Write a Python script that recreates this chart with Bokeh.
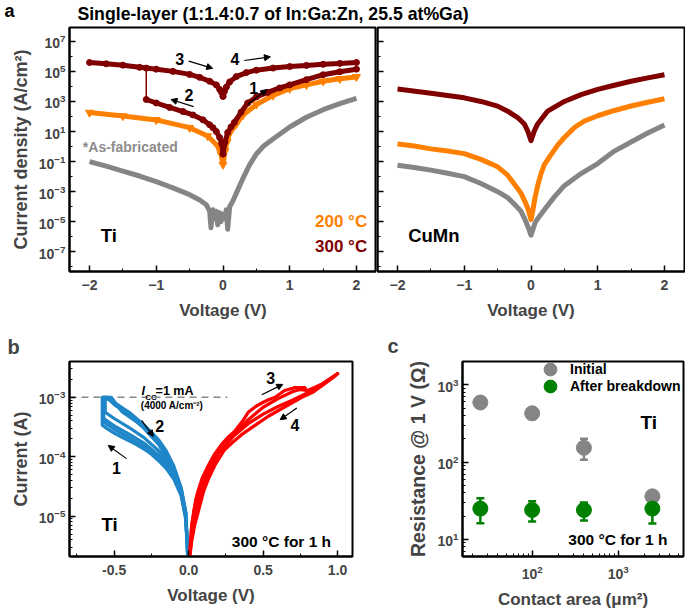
from bokeh.plotting import figure
from bokeh.layouts import column, row
from bokeh.models import (Label, Arrow, NormalHead, Legend, LegendItem, FixedTicker,
                          SingleIntervalTicker, Whisker, TeeHead, ColumnDataSource, Range1d,
                          PrintfTickFormatter)
from bokeh.core.properties import value
from bokeh.embed import file_html
from bokeh.resources import INLINE

# ---------------- data ----------------
# (a) Ti electrode, current density (A/cm^2) vs voltage (V)
ti_asfab_v = [-2.0, -1.75, -1.5, -1.25, -1.0, -0.75, -0.5, -0.35, -0.25, -0.2, -0.18, -0.15, -0.12,
              -0.1, -0.08, -0.05, -0.03, 0.0, 0.03, 0.05, 0.07, 0.1, 0.15, 0.2, 0.3, 0.4, 0.5, 0.6,
              0.75, 1.0, 1.25, 1.5, 1.75, 2.0]
ti_asfab_j = [0.1, 0.05, 0.023, 0.011, 4.6e-3, 1.8e-3, 6.3e-4, 2.8e-4, 1.35e-4, 5e-5, 4e-6, 6.3e-5,
              1.6e-5, 5e-5, 6.3e-6, 4e-5, 1e-5, 3.2e-5, 1.6e-5, 6.3e-5, 3.2e-6, 1e-4, 2.5e-4, 8e-4,
              7.9e-3, 0.063, 0.32, 1.0, 3.2, 20, 89, 282, 708, 1585]
ti200_v = [-2.0, -1.5, -1.0, -0.5, -0.23, -0.08, -0.03, 0.0, 0.03, 0.06, 0.1, 0.2, 0.3, 0.5,
           0.75, 1.0, 1.25, 1.5, 1.75, 2.0]
ti200_j = [182, 107, 59, 18, 5.0, 1.1, 0.32, 0.063, 0.5, 2.0, 7.9, 32, 126, 630, 2500, 7100,
           1.26e4, 2.2e4, 3.2e4, 4.3e4]
# 300 C sweep: 1 (0 -> +2, low), 2 (0 -> -1.15, low), set jump, 3 (-2 -> 0, high), 4 (0 -> +2, high)
ti300_v1 = [0.0, 0.03, 0.07, 0.12, 0.17, 0.27, 0.37, 0.5, 0.67, 0.85, 1.0, 1.25, 1.5, 1.75, 2.0]
ti300_j1 = [0.32, 2.0, 8.5, 20, 40, 190, 790, 2000, 4000, 7900, 1.26e4, 2.8e4, 6e4, 9.5e4, 1.4e5]
ti300_v2 = [0.0, -0.02, -0.05, -0.1, -0.15, -0.2, -0.3, -0.45, -0.6, -0.8, -1.0, -1.15]
ti300_j2 = [0.32, 1.6, 4.0, 10, 18, 28, 60, 126, 214, 400, 790, 1350]
ti300_vset = [-1.15, -1.15]
ti300_jset = [1350, 1.66e5]
ti300_v3 = [-2.0, -1.75, -1.5, -1.25, -1.15, -1.0, -0.75, -0.5, -0.35, -0.2, -0.1, -0.05, -0.02, 0.0]
ti300_j3 = [3.9e5, 3.2e5, 2.6e5, 1.86e5, 1.66e5, 1.4e5, 1.0e5, 6.3e4, 4e4, 2.2e4, 1.26e4, 6.3e3,
            4e3, 2.2e3]
ti300_v4 = [0.0, 0.02, 0.05, 0.1, 0.2, 0.35, 0.5, 0.75, 1.0, 1.25, 1.5, 1.75, 2.0]
ti300_j4 = [2.2e3, 4.5e3, 8.9e3, 2e4, 4.5e4, 8.3e4, 1.2e5, 1.66e5, 2.1e5, 2.5e5, 2.95e5, 3.4e5, 3.9e5]

# (a) CuMn electrode
cu_asfab_v = [-2.0, -1.75, -1.5, -1.25, -1.0, -0.75, -0.5, -0.35, -0.24, -0.15, -0.09, -0.04, 0.0,
              0.03, 0.06, 0.1, 0.2, 0.35, 0.5, 0.75, 1.0, 1.25, 1.5, 1.75, 2.0]
cu_asfab_j = [0.058, 0.04, 0.027, 0.0166, 0.01, 3.5e-3, 1e-3, 4e-4, 1.35e-4, 5e-5, 1.4e-5, 4e-6,
              1.26e-6, 3.2e-6, 8.3e-6, 1.6e-5, 6.3e-5, 4.5e-4, 2.5e-3, 0.016, 0.074, 0.5, 2.0, 7.9, 27]
cu200_v = [-2.0, -1.75, -1.5, -1.25, -1.0, -0.75, -0.5, -0.35, -0.24, -0.15, -0.09, -0.04, 0.0,
           0.03, 0.06, 0.1, 0.15, 0.2, 0.29, 0.4, 0.5, 0.66, 0.8, 1.0, 1.25, 1.5, 1.75, 2.0]
cu200_j = [1.5, 1.1, 0.7, 0.5, 0.34, 0.14, 0.045, 0.0126, 2.8e-3, 8e-4, 2.2e-4, 6.3e-5, 1.4e-5,
           6.3e-5, 4e-4, 2.5e-3, 0.016, 0.063, 0.25, 1.26, 4.0, 20, 50, 112, 251, 500, 891, 1510]
cu300_v = [-2.0, -1.5, -1.0, -0.75, -0.5, -0.35, -0.2, -0.1, -0.05, 0.0, 0.05, 0.1, 0.25, 0.5,
           0.75, 1.0, 1.25, 1.5, 1.75, 2.0]
cu300_j = [6760, 3550, 1740, 1000, 490, 224, 85, 32, 11, 2.5, 11, 32, 229, 1000, 2820, 6310,
           1.2e4, 2.2e4, 3.7e4, 6.0e4]

# (b) Ti, 300 C: current (A) vs voltage (V), several cycles
blue_v_a = [0.0, -0.005, -0.02, -0.05, -0.1, -0.15, -0.2, -0.25, -0.3, -0.35, -0.4, -0.45, -0.5,
            -0.55, -0.58, -0.58, -0.54, -0.5, -0.45, -0.4, -0.35, -0.3, -0.25, -0.2, -0.15, -0.1,
            -0.05, -0.02, -0.005, 0.0]
blue_i_a = [1e-6, 2.5e-6, 9e-6, 2.2e-5, 4.2e-5, 6.3e-5, 8.5e-5, 1.1e-4, 1.35e-4, 1.6e-4, 1.85e-4,
            2.15e-4, 2.5e-4, 3.0e-4, 3.4e-4, 1e-3, 1e-3, 8.2e-4, 6.8e-4, 5.6e-4, 4.4e-4, 3.4e-4,
            2.6e-4, 1.9e-4, 1.25e-4, 7e-5, 3e-5, 1.2e-5, 3e-6, 1e-6]
blue_v_b = [0.0, -0.02, -0.05, -0.1, -0.2, -0.3, -0.4, -0.5, -0.57, -0.57, -0.55, -0.5, -0.45,
            -0.4, -0.3, -0.2, -0.1, -0.05, -0.02, 0.0]
blue_i_b = [1e-6, 1e-5, 2.5e-5, 5e-5, 1.05e-4, 1.7e-4, 2.4e-4, 3.3e-4, 4.4e-4, 1e-3, 1e-3, 7.6e-4,
            6.2e-4, 5e-4, 3.0e-4, 1.6e-4, 6e-5, 2.7e-5, 1.1e-5, 1e-6]
blue_v_c = [0.0, -0.02, -0.05, -0.1, -0.2, -0.3, -0.4, -0.5, -0.56, -0.56, -0.52, -0.45, -0.4,
            -0.3, -0.2, -0.1, -0.05, -0.02, 0.0]
blue_i_c = [1e-6, 1.1e-5, 2.7e-5, 5.8e-5, 1.25e-4, 2.1e-4, 3.1e-4, 4.4e-4, 5.6e-4, 1e-3, 1e-3,
            5.8e-4, 4.7e-4, 3.2e-4, 1.75e-4, 6.5e-5, 2.8e-5, 1.15e-5, 1e-6]
blue_v_d = [0.0, -0.02, -0.05, -0.1, -0.2, -0.3, -0.4, -0.5, -0.575, -0.575, -0.53, -0.48, -0.4,
            -0.3, -0.2, -0.1, -0.05, -0.02, 0.0]
blue_i_d = [1e-6, 9.5e-6, 2.3e-5, 4.6e-5, 9.5e-5, 1.5e-4, 2.1e-4, 2.9e-4, 3.9e-4, 1e-3, 9e-4,
            7e-4, 5.3e-4, 3.2e-4, 1.75e-4, 6.5e-5, 2.8e-5, 1.15e-5, 1e-6]
red_v_a = [0.0, 0.005, 0.02, 0.035, 0.06, 0.09, 0.13, 0.175, 0.22, 0.27, 0.31, 0.36, 0.40, 0.45,
           0.49, 0.54, 0.58, 0.645, 0.71, 0.78, 0.80, 0.85, 0.9, 0.95, 1.0, 0.98, 0.9, 0.83, 0.76,
           0.65, 0.535, 0.44, 0.355, 0.29, 0.24, 0.18, 0.134, 0.1, 0.067, 0.04, 0.02, 0.008, 0.0]
red_i_a = [1e-6, 2.2e-6, 6.5e-6, 1.25e-5, 2.5e-5, 4.3e-5, 7e-5, 1.12e-4, 1.6e-4, 2.2e-4, 2.7e-4,
           3.9e-4, 5.6e-4, 7e-4, 8e-4, 9.2e-4, 1.0e-3, 1.3e-3, 1.45e-3, 1.45e-3, 1.2e-3, 1.38e-3,
           1.7e-3, 2.05e-3, 2.5e-3, 2.24e-3, 1.6e-3, 1.2e-3, 1.0e-3, 7e-4, 4.8e-4, 3.3e-4, 2.35e-4,
           1.7e-4, 1.3e-4, 7.5e-5, 4.3e-5, 2.6e-5, 1.26e-5, 7e-6, 3.7e-6, 2.2e-6, 1e-6]
red_v_b = [0.0, 0.02, 0.05, 0.1, 0.15, 0.2, 0.3, 0.4, 0.5, 0.6, 0.7, 0.75, 0.8, 0.9, 1.0, 0.9, 0.8,
           0.7, 0.6, 0.5, 0.4, 0.3, 0.2, 0.1, 0.05, 0.02, 0.0]
red_i_b = [1e-6, 7e-6, 2e-5, 4.5e-5, 7.5e-5, 1.15e-4, 2.3e-4, 4.2e-4, 6.8e-4, 9.5e-4, 1.25e-3,
           1.35e-3, 1.3e-3, 1.7e-3, 2.5e-3, 1.65e-3, 1.2e-3, 9e-4, 7e-4, 5.2e-4, 3.6e-4, 2.2e-4,
           1.15e-4, 3.4e-5, 1.3e-5, 5e-6, 1e-6]
icc_v = [-0.8, 0.26]
icc_i = [1e-3, 1e-3]

# (c) resistance @ 1 V vs contact area
area_um2 = [25, 100, 400, 2500]
r_initial = [590, 427, 153, 36]
r_initial_lo = [560, 405, 107, 32]
r_initial_hi = [620, 450, 200, 40]
r_after = [25, 24, 24, 25]
r_after_lo = [16.2, 17, 17.5, 16]
r_after_hi = [34, 31, 30, 35]

# tick lists
a_major_ticks = [1e-7, 1e-5, 1e-3, 1e-1, 1e1, 1e3, 1e5, 1e7]
a_minor_ticks = [1e-8, 1e-7, 1e-6, 1e-5, 1e-4, 1e-3, 1e-2, 1e-1, 1e0, 1e1, 1e2, 1e3, 1e4, 1e5,
                 1e6, 1e7]

# ---------------- styling ----------------
FONT = "Liberation Sans"
GRAY = "#858585"
ORANGE = "#ff8000"
DARKRED = "#800000"
BLUE = "#1f86c8"
RED = "#ff0000"
GREEN = "#008000"


def style(p, ylab_size="18px"):
    p.grid.visible = False
    p.title.visible = False
    p.outline_line_color = "black"
    p.outline_line_width = 2
    p.background_fill_color = "white"
    p.border_fill_color = "white"
    for ax in p.axis:
        ax.axis_line_width = 2
        ax.major_tick_in = 6
        ax.major_tick_out = 0
        ax.minor_tick_in = 3
        ax.minor_tick_out = 0
        ax.major_tick_line_width = 1.5
        ax.minor_tick_line_width = 1
        ax.major_label_text_font = FONT
        ax.major_label_text_font_style = "bold"
        ax.major_label_text_font_size = "14px"
        ax.axis_label_text_font = FONT
        ax.axis_label_text_font_style = "bold"
        ax.axis_label_text_font_size = "17px"
    for ax in p.yaxis:
        ax.axis_label_text_font_size = ylab_size
        ax.major_label_standoff = 4
    for ax in p.xaxis:
        ax.major_label_standoff = 8
        ax.axis_label_standoff = 8


def panel_letter(p, letter, offset, standoff):
    p.title.visible = True
    p.title.text = letter
    p.title.align = "left"
    p.title.offset = offset
    p.title.standoff = standoff
    p.title.text_font = FONT
    p.title.text_font_style = "bold"
    p.title.text_font_size = "20px"


def txt(p, x, y, s, size, color="black", align="left", baseline="middle", style_="bold"):
    p.add_layout(Label(x=x, y=y, text=s, text_font=FONT, text_font_size=size,
                       text_font_style=style_, text_color=color, text_align=align,
                       text_baseline=baseline))


def arr(p, x0, y0, x1, y1):
    p.add_layout(Arrow(end=NormalHead(size=6, fill_color="black", line_color="black",
                                      line_width=1),
                       x_start=x0, y_start=y0, x_end=x1, y_end=y1,
                       line_width=1.2, line_color="black"))


def one_legend(p, renderers, label, loc, gw, gh, standoff, size, color="black"):
    lg = Legend(items=[LegendItem(label=value(label), renderers=renderers)], location=loc,
                glyph_width=gw, glyph_height=gh, label_standoff=standoff, padding=0, margin=0,
                border_line_alpha=0, background_fill_alpha=0, label_text_font=FONT,
                label_text_font_style="bold", label_text_font_size=size,
                label_text_color=color, label_height=gh)
    p.add_layout(lg)


# ---------------- title strip ----------------
pt = figure(width=685, height=25, x_range=Range1d(0, 685), y_range=Range1d(0, 25),
            x_axis_location=None, y_axis_location=None, min_border=0,
            output_backend="svg", toolbar_location=None)
pt.grid.visible = False
pt.title.visible = False
pt.outline_line_color = None
txt(pt, 4, 15, "a", "18px")
txt(pt, 272.5, 11.3, "Single-layer (1:1.4:0.7 of In:Ga:Zn, 25.5 at%Ga)", "17.7px",
    align="center")

# ---------------- (a) Ti ----------------
pa1 = figure(width=376, height=297, x_range=Range1d(-2.3, 2.3), y_range=Range1d(4.9e-9, 8.3e7),
             y_axis_type="log", min_border_left=69, min_border_right=0, min_border_top=2,
             min_border_bottom=48, output_backend="svg", toolbar_location=None)
pa1.yaxis.ticker = FixedTicker(ticks=a_major_ticks, minor_ticks=a_minor_ticks)
pa1.xaxis.ticker = SingleIntervalTicker(interval=1, num_minor_ticks=2)
pa1.xaxis.axis_label = "Voltage (V)"
pa1.yaxis.axis_label = "Current density (A/cm\u00b2)"
style(pa1)

pa1.line(ti_asfab_v, ti_asfab_j, color=GRAY, line_width=5, line_join="round")
pa1.line(ti200_v, ti200_j, color=ORANGE, line_width=5, line_join="round")
pa1.scatter(ti200_v, ti200_j, marker="inverted_triangle", size=8, color=ORANGE)
for vv, jj in [(ti300_v1, ti300_j1), (ti300_v2, ti300_j2), (ti300_v3, ti300_j3), (ti300_v4, ti300_j4)]:
    pa1.line(vv, jj, color=DARKRED, line_width=5, line_join="round")
    pa1.scatter(vv, jj, marker="circle", size=6, color=DARKRED)
pa1.line(ti300_vset, ti300_jset, color=DARKRED, line_width=1.5)

txt(pa1, -2.1, 0.89, "*As-fabricated", "14px", color="#8c8c8c")
txt(pa1, -1.83, 1.2e-6, "Ti", "18.5px")
txt(pa1, -0.65, 6.9e5, "3", "16px", align="center")
arr(pa1, -0.514, 4.8e5, -0.154, 1.6e5)
txt(pa1, 0.18, 6.2e5, "4", "16px", align="center")
arr(pa1, 0.32, 5.3e5, 0.71, 9.3e5)
txt(pa1, -0.51, 2.9e3, "2", "16px", align="center")
arr(pa1, -0.44, 450, -0.78, 1350)
txt(pa1, 0.46, 8.3e3, "1", "16px", align="center")
arr(pa1, 0.37, 630, 0.655, 6.2e3)

leg_o_line = pa1.line([], [], color=ORANGE, line_width=2.5)
leg_o_mark = pa1.scatter([], [], marker="inverted_triangle", color=ORANGE)
leg_r_line = pa1.line([], [], color=DARKRED, line_width=2.5)
leg_r_mark = pa1.scatter([], [], marker="circle", color=DARKRED)
one_legend(pa1, [leg_o_line, leg_o_mark], "200 \u00b0C", (201, 39), 41, 20, 4, "17px", ORANGE)
one_legend(pa1, [leg_r_line, leg_r_mark], "300 \u00b0C", (201, 14), 41, 20, 4, "17px", DARKRED)

# ---------------- (a) CuMn ----------------
pa2 = figure(width=309, height=297, x_range=Range1d(-2.3, 2.3), y_range=Range1d(4.9e-9, 8.3e7),
             y_axis_type="log", min_border_left=1, min_border_right=1, min_border_top=2,
             min_border_bottom=48, output_backend="svg", toolbar_location=None)
pa2.yaxis.ticker = FixedTicker(ticks=a_major_ticks, minor_ticks=a_minor_ticks)
pa2.xaxis.ticker = SingleIntervalTicker(interval=1, num_minor_ticks=2)
pa2.xaxis.axis_label = "Voltage (V)"
style(pa2)
pa2.yaxis.major_label_text_font_size = "1px"
pa2.yaxis.major_label_text_alpha = 0
pa2.yaxis.major_label_standoff = 0

pa2.line(cu_asfab_v, cu_asfab_j, color=GRAY, line_width=5, line_join="round")
pa2.line(cu200_v, cu200_j, color=ORANGE, line_width=5, line_join="round")
pa2.line(cu300_v, cu300_j, color=DARKRED, line_width=5, line_join="round")
txt(pa2, -1.84, 1.2e-6, "CuMn", "18.5px")

# ---------------- (b) ----------------
pb = figure(width=380, height=289, x_range=Range1d(-0.8, 1.1), y_range=Range1d(2.1e-6, 4e-3),
            y_axis_type="log", min_border_left=69, min_border_right=28, min_border_top=37,
            min_border_bottom=45, output_backend="svg", toolbar_location=None)
pb.xaxis.ticker = SingleIntervalTicker(interval=0.5, num_minor_ticks=2)
pb.xaxis.formatter = PrintfTickFormatter(format="%.1f")
pb.xaxis.axis_label = "Voltage (V)"
pb.yaxis.axis_label = "Current (A)"
style(pb)
panel_letter(pb, "b", -62, 8)

pb.line(icc_v, icc_i, color="#888888", line_width=1.5, line_dash="7 5")
for vv, ii in [(blue_v_a, blue_i_a), (blue_v_d, blue_i_d), (blue_v_b, blue_i_b), (blue_v_c, blue_i_c)]:
    pb.line(vv, ii, color=BLUE, line_width=3.2, line_join="round")
for vv, ii in [(red_v_a, red_i_a), (red_v_b, red_i_b)]:
    pb.line(vv, ii, color=RED, line_width=3.2, line_join="round")

txt(pb, -0.316, 1.26e-3, "I", "12.5px", style_="bold italic")
txt(pb, -0.291, 1.0e-3, "CC", "8px")
txt(pb, -0.222, 1.26e-3, "=1 mA", "12.5px")
txt(pb, -0.321, 7.4e-4, "(4000 A/cm\u207b\u00b2)", "10px")
txt(pb, -0.585, 7.2e-6, "Ti", "18.5px")
txt(pb, 0.29, 3.7e-6, "300 \u00b0C for 1 h", "15.5px")
txt(pb, 0.551, 2.1e-3, "3", "16px", align="center")
arr(pb, 0.491, 1.1e-3, 0.632, 1.65e-3)
txt(pb, 0.713, 3.4e-4, "4", "16px", align="center")
arr(pb, 0.726, 6.6e-4, 0.614, 4.2e-4)
txt(pb, -0.195, 3.3e-4, "2", "16px", align="center")
arr(pb, -0.316, 4.1e-4, -0.237, 2.2e-4)
txt(pb, -0.484, 6.5e-5, "1", "16px", align="center")
arr(pb, -0.417, 9.3e-5, -0.54, 1.55e-4)

# ---------------- (c) ----------------
pc = figure(width=305, height=289, x_range=Range1d(15.5, 5750), y_range=Range1d(6.0, 2000),
            x_axis_type="log", y_axis_type="log", min_border_left=82, min_border_right=2,
            min_border_top=39, min_border_bottom=46, output_backend="svg", toolbar_location=None)
pc.xaxis.axis_label = "Contact area (\u03bcm\u00b2)"
pc.yaxis.axis_label = "Resistance @ 1 V (\u03a9)"
style(pc, ylab_size="19.5px")
panel_letter(pc, "c", -75, 10)

src_i = ColumnDataSource(dict(x=area_um2, y=r_initial, lo=r_initial_lo, hi=r_initial_hi))
src_a = ColumnDataSource(dict(x=area_um2, y=r_after, lo=r_after_lo, hi=r_after_hi))
pc.add_layout(Whisker(source=src_i, base="x", upper="hi", lower="lo", line_color=GRAY,
                      line_width=2.5,
                      upper_head=TeeHead(size=8, line_color=GRAY, line_width=2.5),
                      lower_head=TeeHead(size=8, line_color=GRAY, line_width=2.5)))
r_init = pc.scatter("x", "y", source=src_i, marker="circle", size=15, color=GRAY)
pc.add_layout(Whisker(source=src_a, base="x", upper="hi", lower="lo", line_color=GREEN,
                      line_width=2.5,
                      upper_head=TeeHead(size=8, line_color=GREEN, line_width=2.5),
                      lower_head=TeeHead(size=8, line_color=GREEN, line_width=2.5)))
r_aft = pc.scatter("x", "y", source=src_a, marker="circle", size=15, color=GREEN)

one_legend(pc, [r_init], "Initial", (72, 171), 32, 32, 4, "14px")
one_legend(pc, [r_aft], "After breakdown", (72, 154), 32, 32, 4, "14px")

txt(pc, 1820, 325, "Ti", "19px")
txt(pc, 263, 10, "300 \u00b0C for 1 h", "15.5px")

layout = column(pt, row(pa1, pa2), row(pb, pc))
open("out.html", "w").write(file_html(layout, INLINE))
